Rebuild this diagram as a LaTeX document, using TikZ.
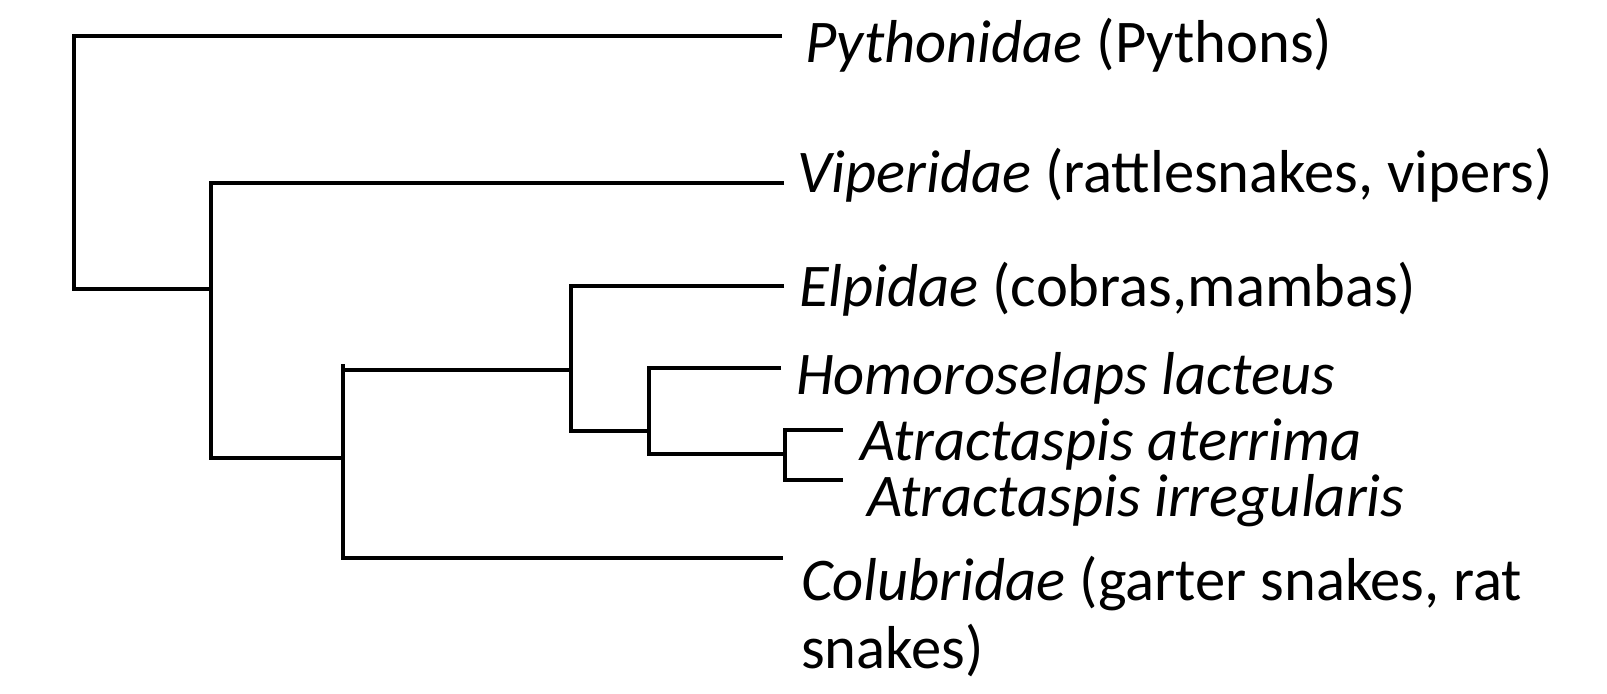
\documentclass[tikz,border=0pt]{standalone}
\usepackage{fontspec}
\setmainfont{Carlito}
\begin{document}
\begin{tikzpicture}[x=0.5pt,y=-0.5pt,
  branch/.style={line width=1.8pt,black},
  taxon/.style={anchor=base west,inner sep=0pt,outer sep=0pt,font=\fontsize{30.3}{34.1}\selectfont,align=left}]
\useasboundingbox (0,0) rectangle (1607,693);
% internal node verticals
\coordinate (rT) at (74,36);   \coordinate (rB) at (74,289);
\coordinate (aT) at (211,183); \coordinate (aB) at (211,458);
\coordinate (bK) at (343,364); \coordinate (bT) at (343,370); \coordinate (bB) at (343,558);
\coordinate (cT) at (571,286); \coordinate (cB) at (571,431);
\coordinate (dT) at (649,368); \coordinate (dB) at (649,454);
\coordinate (eT) at (785,430); \coordinate (eB) at (785,480);
% tips
\coordinate (tPy) at (782,36);
\coordinate (tVi) at (784,183);
\coordinate (tEl) at (784,286);
\coordinate (tHo) at (781,368);
\coordinate (tAa) at (843,430);
\coordinate (tAi) at (843,480);
\coordinate (tCo) at (783,558);
% labels
\node[taxon] (Py) at (805,62.7) {\textit{Pythonidae} (Pythons)};
\node[taxon] (Vi) at (797,192.7) {\textit{Viperidae} (rattlesnakes, vipers)};
\node[taxon] (El) at (799,306) {\textit{Elpidae} (cobras,mambas)};
\node[taxon] (Ho) at (796,394) {\textit{Homoroselaps lacteus}};
\node[taxon] (Aa) at (860,460.7) {\textit{Atractaspis aterrima}};
\node[taxon] (Ai) at (867,516) {\textit{Atractaspis irregularis}};
\node[taxon] (Co) at (801,668.3) {\textit{Colubridae} (garter snakes, rat\\snakes)};
% branches
\draw[branch] (tPy) -- (rT) -- (rB) -- (aT |- rB);
\draw[branch] (tVi) -- (aT) -- (aB) -- (bT |- aB);
\draw[branch] (cT |- bT) -- (bT);
\draw[branch] (bK) -- (bB) -- (tCo);
\draw[branch] (tEl) -- (cT) -- (cB) -- (dT |- cB);
\draw[branch] (tHo) -- (dT) -- (dB) -- (eT |- dB);
\draw[branch] (tAa) -- (eT) -- (eB) -- (tAi);
\end{tikzpicture}
\end{document}
